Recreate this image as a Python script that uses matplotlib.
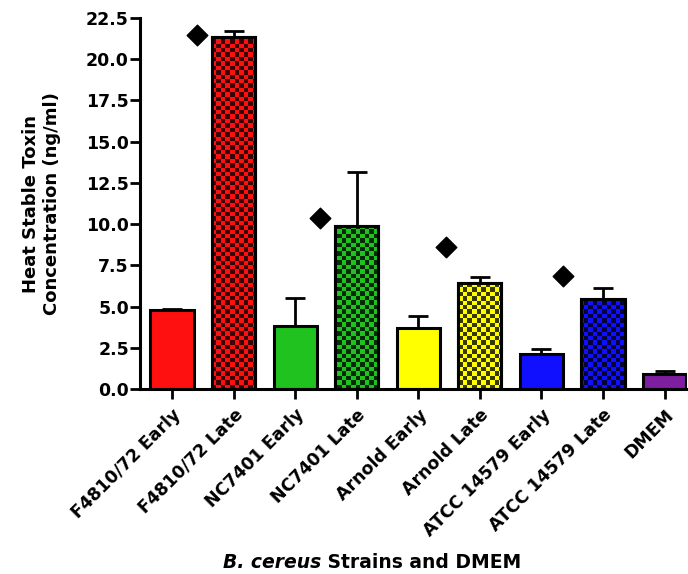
import numpy as np
import matplotlib
matplotlib.use('Agg')
import matplotlib.pyplot as plt
from matplotlib.colors import ListedColormap, to_rgb

plt.rcParams['font.family'] = ['DejaVu Sans']

# data
strains = ['F4810/72 Early', 'F4810/72 Late', 'NC7401 Early', 'NC7401 Late',
           'Arnold Early', 'Arnold Late', 'ATCC 14579 Early', 'ATCC 14579 Late',
           'DMEM']
toxin = [4.78, 21.35, 3.82, 9.9, 3.72, 6.42, 2.12, 5.45, 0.89]
toxin_err = [0.05, 0.38, 1.68, 3.25, 0.72, 0.35, 0.3, 0.65, 0.18]
checkered = [False, True, False, True, False, True, False, True, False]
colors = ['#ff1010', '#ff1010', '#1fc21f', '#1fc21f', '#ffff00', '#ffff00',
          '#1010ff', '#1010ff', '#7d1fa0']

# significance diamonds (x in category units)
sig_x = [0.4, 2.4, 4.45, 6.35]
sig_y = [21.45, 10.4, 8.6, 6.87]

fig = plt.figure(figsize=(6.88, 5.74), dpi=100)
ax = fig.add_axes([0.2035, 0.3223, 0.7955, 0.6463])

x = np.arange(len(strains))
bars = ax.bar(x, toxin, width=0.7, color=colors, edgecolor='black',
              linewidth=2.2, zorder=2)
ax.errorbar(x, toxin, yerr=[np.zeros(len(toxin)), toxin_err], fmt='none',
            ecolor='black', elinewidth=2, capsize=7, capthick=2, zorder=1)

ax.set_xlim(-0.52, 8.37)
ax.set_ylim(0, 22.5)

# checkerboard fill for the "Late" bars
xlo, xhi = ax.get_xlim()
nx, ny = 122, 84
checker = (np.add.outer(np.arange(ny), np.arange(nx)) % 2)
for b, chk, c in zip(bars, checkered, colors):
    if not chk:
        continue
    dark = tuple(v * 0.22 for v in to_rgb(c))
    cmap = ListedColormap([dark, to_rgb(c)])
    im = ax.imshow(checker, cmap=cmap, extent=(xlo, xhi, 0, 22.5),
                   interpolation='nearest', aspect='auto', zorder=2.1,
                   origin='lower')
    im.set_clip_path(b)
    # redraw edge on top
    ax.bar(b.get_x() + b.get_width() / 2, b.get_height(), width=b.get_width(),
           fill=False, edgecolor='black', linewidth=2.2, zorder=2.2)

ax.set_xlim(xlo, xhi)
ax.set_ylim(0, 22.5)

ax.scatter(sig_x, sig_y, marker='D', s=110, color='black', zorder=3)

ax.spines['top'].set_visible(False)
ax.spines['right'].set_visible(False)
ax.spines['left'].set_linewidth(2.2)
ax.spines['bottom'].set_linewidth(2.2)

yt = np.arange(0, 22.6, 2.5)
ax.set_yticks(yt)
ax.set_yticklabels(['%.1f' % v for v in yt], fontsize=12.5, fontweight='bold')
ax.set_xticks(x)
ax.set_xticklabels(strains, rotation=45, ha='right', rotation_mode='anchor',
                   fontsize=12.5, fontweight='bold')
ax.tick_params(axis='both', direction='out', length=7, width=2, pad=1)
ax.tick_params(axis='x', pad=5)

ax.set_ylabel('Heat Stable Toxin\nConcentration (ng/ml)', fontsize=13,
              fontweight='bold', labelpad=18)

t1 = fig.text(0.324, 0.0105, 'B. cereus', fontsize=13.5, fontweight='bold',
              style='italic', va='baseline')
ax.annotate(' Strains and DMEM', xy=(1, 0), xycoords=t1, fontsize=13.5,
            fontweight='bold', va='bottom')

fig.savefig('out.png', dpi=100)
